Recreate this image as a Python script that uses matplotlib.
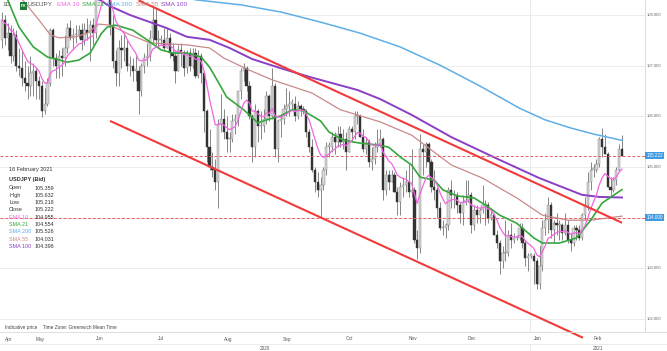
import matplotlib
matplotlib.use("Agg")
import matplotlib.pyplot as plt
import matplotlib.transforms as mtransforms
from matplotlib.patches import Rectangle
import numpy as np
import pandas as pd

plt.rcParams['font.family'] = ['Liberation Sans', 'DejaVu Sans']

# daily bars, 16 Apr 2020 - 16 Feb 2021
dates = pd.bdate_range("2020-04-16", "2021-02-16")

opens = [
    # Apr
    107.50, 107.90, 107.55, 107.65, 107.20, 107.60, 107.00, 106.95, 106.75, 106.65, 106.60,
    # May
    106.85, 106.90, 106.70, 106.60, 106.10, 106.25, 106.65, 107.70, 107.15, 107.00, 107.20,
    107.15, 107.35, 107.75, 107.55, 107.60, 107.60, 107.70, 107.50, 107.70, 107.65,
    # Jun
    107.80, 107.65, 108.70, 108.90, 109.15, 109.55, 108.45, 107.80, 107.10, 106.85, 107.35,
    107.30, 107.35, 107.00, 107.00, 106.90, 106.90, 106.50, 107.00, 107.15, 107.20, 107.55,
    # Jul
    107.90, 107.50, 107.50, 107.50, 107.35, 107.55, 107.25, 107.20, 106.90, 107.30, 107.25,
    106.95, 107.25, 107.00, 107.25, 106.80, 107.20, 106.85, 106.10, 105.40, 105.00, 104.95, 104.70,
    # Aug
    105.85, 105.95, 105.70, 105.55, 105.55, 105.90, 105.95, 106.50, 106.90, 106.95, 106.60,
    106.00, 105.40, 106.10, 105.80, 105.80, 105.95, 106.40, 106.00, 106.60, 105.35,
    # Sep
    105.90, 105.95, 106.15, 106.20, 106.25, 106.25, 106.00, 106.20, 106.15, 106.10, 105.70,
    105.40, 104.95, 104.70, 104.55, 104.65, 104.95, 105.40, 105.40, 105.60, 105.50, 105.65,
    # Oct
    105.50, 105.55, 105.30, 105.75, 105.70, 106.00, 106.00, 105.60, 105.35, 105.50, 105.10,
    105.15, 105.40, 105.45, 105.55, 104.55, 104.85, 104.70, 104.85, 104.50, 104.30, 104.60,
    # Nov
    104.65, 104.70, 104.50, 104.55, 103.55, 103.40, 105.35, 105.30, 105.45, 105.10, 104.60,
    104.55, 104.20, 103.80, 103.80, 103.85, 104.55, 104.45, 104.45, 104.25, 104.10,
    # Dec
    104.30, 104.35, 104.45, 103.85, 104.15, 104.05, 104.15, 104.25, 104.25, 104.00, 104.05,
    103.65, 103.50, 103.15, 103.30, 103.30, 103.65, 103.55, 103.60, 103.60, 103.80, 103.50, 103.20,
    # Jan
    103.25, 103.25, 103.15, 102.70, 103.05, 103.80, 103.95, 104.25, 103.75, 103.90, 103.85,
    103.85, 103.70, 103.85, 103.55, 103.50, 103.80, 103.75, 103.60, 104.05, 104.25,
    # Feb
    104.70, 104.95, 104.95, 105.05, 105.55, 105.40, 105.25, 104.60, 104.55, 104.75, 104.95, 105.359,
]
highs = [
    108.05, 108.00, 107.85, 107.80, 107.75, 107.70, 107.35, 107.30, 107.10, 107.00, 107.20,
    107.05, 106.95, 106.80, 106.70, 106.55, 106.75, 107.75, 107.75, 107.25, 107.30, 107.35,
    107.60, 107.85, 107.90, 107.75, 107.80, 107.80, 107.85, 107.85, 107.95, 107.90,
    107.95, 108.75, 109.00, 109.25, 109.85, 109.60, 108.55, 108.00, 107.30, 107.50, 107.60,
    107.65, 107.50, 107.20, 107.15, 107.20, 107.00, 107.05, 107.25, 107.45, 107.70, 108.15,
    108.15, 107.70, 107.60, 107.75, 107.75, 107.65, 107.45, 107.30, 107.40, 107.45, 107.30,
    107.30, 107.35, 107.35, 107.35, 107.30, 107.25, 106.85, 106.15, 105.75, 105.30, 105.15, 105.95,
    106.45, 106.15, 106.00, 105.70, 106.05, 106.05, 106.50, 106.95, 107.05, 107.00, 106.70,
    106.05, 106.25, 106.15, 106.10, 106.15, 106.50, 106.45, 106.95, 106.65, 105.95,
    106.05, 106.25, 106.55, 106.50, 106.35, 106.40, 106.30, 106.25, 106.20, 106.15, 105.75,
    105.55, 105.00, 104.90, 104.80, 105.00, 105.50, 105.50, 105.70, 105.70, 105.80, 105.80,
    105.75, 105.70, 105.80, 105.80, 106.10, 106.10, 106.05, 105.75, 105.60, 105.55, 105.40,
    105.50, 105.75, 105.75, 105.60, 104.95, 104.95, 104.95, 104.90, 104.60, 104.70, 104.80,
    104.95, 105.05, 105.35, 104.60, 103.75, 105.65, 105.45, 105.50, 105.50, 105.15, 104.95,
    104.60, 104.30, 103.95, 103.90, 104.60, 104.75, 104.55, 104.50, 104.30, 104.45,
    104.75, 104.75, 104.50, 104.25, 104.25, 104.20, 104.65, 104.35, 104.30, 104.20, 104.10,
    103.75, 103.55, 103.45, 103.95, 103.75, 103.90, 103.70, 103.65, 103.90, 103.90, 103.55, 103.30,
    103.30, 103.30, 103.20, 103.45, 103.95, 104.10, 104.40, 104.30, 103.95, 104.10, 103.95,
    103.90, 104.10, 103.95, 103.70, 103.85, 103.85, 103.85, 104.10, 104.40, 104.90,
    105.10, 105.05, 105.15, 105.60, 105.77, 105.65, 105.30, 104.80, 104.80, 105.00, 105.45, 105.632,
]
lows = [
    107.35, 107.40, 107.30, 107.05, 107.10, 106.90, 106.80, 106.60, 106.50, 106.35, 106.40,
    106.40, 106.35, 106.35, 105.99, 106.05, 106.20, 106.60, 107.00, 106.75, 106.75, 106.80,
    107.00, 107.25, 107.50, 107.30, 107.45, 107.55, 107.30, 107.40, 107.50, 107.10,
    107.40, 107.55, 108.40, 108.75, 109.00, 108.40, 107.60, 106.95, 106.60, 106.60, 106.95,
    107.10, 106.90, 106.80, 106.70, 106.70, 106.05, 106.40, 106.85, 107.00, 107.10, 107.45,
    107.40, 107.35, 107.40, 107.30, 107.35, 107.15, 107.10, 106.65, 106.90, 107.00, 106.80,
    106.85, 106.90, 106.95, 106.75, 106.75, 106.65, 105.70, 105.10, 104.95, 104.80, 104.55, 104.19,
    105.70, 105.55, 105.30, 105.30, 105.50, 105.65, 105.80, 106.35, 106.70, 106.50, 105.95,
    105.10, 105.20, 105.50, 105.55, 105.70, 105.85, 105.90, 105.95, 105.20, 105.10,
    105.60, 105.85, 106.00, 106.00, 106.15, 105.90, 105.95, 106.00, 106.05, 105.60, 105.30,
    104.90, 104.50, 104.40, 104.00, 104.55, 104.85, 105.20, 105.30, 105.25, 105.40, 105.40,
    105.35, 104.95, 105.30, 105.50, 105.55, 105.85, 105.60, 105.30, 105.25, 105.00, 104.95,
    105.05, 105.30, 105.40, 104.35, 104.45, 104.55, 104.70, 104.50, 104.05, 104.05, 104.40,
    104.50, 104.40, 104.40, 103.50, 103.18, 103.30, 104.85, 105.00, 104.85, 104.50, 104.35,
    104.00, 103.75, 103.65, 103.60, 103.75, 104.20, 104.20, 104.10, 103.90, 103.85,
    104.25, 104.30, 103.70, 103.75, 103.90, 103.90, 104.10, 103.85, 103.90, 103.95, 103.65,
    103.40, 102.88, 103.00, 103.15, 103.25, 103.40, 103.50, 103.55, 103.55, 103.40, 103.05, 102.95,
    103.20, 102.70, 102.60, 102.59, 102.95, 103.65, 103.70, 103.60, 103.50, 103.65, 103.55,
    103.55, 103.65, 103.50, 103.35, 103.45, 103.55, 103.55, 103.55, 103.95, 104.15,
    104.55, 104.80, 104.90, 105.00, 105.20, 105.25, 104.60, 104.40, 104.50, 104.65, 104.90, 105.218,
]
closes = [
    107.90, 107.55, 107.65, 107.20, 107.60, 107.00, 106.95, 106.75, 106.65, 106.60, 106.85,
    106.90, 106.70, 106.60, 106.10, 106.25, 106.65, 107.70, 107.15, 107.00, 107.20, 107.15,
    107.35, 107.75, 107.55, 107.60, 107.60, 107.70, 107.50, 107.70, 107.65, 107.80,
    107.65, 108.70, 108.90, 109.15, 109.60, 108.45, 107.80, 107.10, 106.85, 107.35, 107.30,
    107.35, 107.00, 107.00, 106.90, 106.90, 106.50, 107.00, 107.15, 107.20, 107.55, 107.90,
    107.50, 107.50, 107.50, 107.35, 107.55, 107.25, 107.20, 106.90, 107.30, 107.25, 106.95,
    107.25, 107.00, 107.25, 106.80, 107.20, 106.85, 106.10, 105.40, 105.00, 104.95, 104.70, 105.85,
    105.95, 105.70, 105.55, 105.55, 105.90, 105.95, 106.50, 106.90, 106.95, 106.60, 106.00,
    105.40, 106.10, 105.80, 105.80, 105.95, 106.40, 106.00, 106.60, 105.35, 105.90,
    105.95, 106.15, 106.20, 106.25, 106.25, 106.00, 106.20, 106.15, 106.10, 105.70, 105.40,
    104.95, 104.70, 104.55, 104.65, 104.95, 105.40, 105.40, 105.60, 105.50, 105.65, 105.50,
    105.55, 105.30, 105.75, 105.70, 106.00, 106.00, 105.60, 105.35, 105.50, 105.10, 105.15,
    105.40, 105.45, 105.55, 104.55, 104.85, 104.70, 104.85, 104.50, 104.30, 104.60, 104.65,
    104.70, 104.50, 104.55, 103.55, 103.40, 105.35, 105.30, 105.45, 105.10, 104.60, 104.55,
    104.20, 103.80, 103.80, 103.85, 104.55, 104.45, 104.45, 104.25, 104.10, 104.30,
    104.35, 104.45, 103.85, 104.15, 104.05, 104.15, 104.25, 104.25, 104.00, 104.05, 103.65,
    103.50, 103.15, 103.30, 103.30, 103.65, 103.55, 103.60, 103.60, 103.80, 103.50, 103.20, 103.25,
    103.25, 103.15, 102.70, 103.05, 103.80, 103.95, 104.25, 103.75, 103.90, 103.85, 103.85,
    103.70, 103.85, 103.55, 103.50, 103.80, 103.75, 103.60, 104.05, 104.25, 104.70,
    104.95, 104.95, 105.05, 105.55, 105.40, 105.25, 104.60, 104.55, 104.75, 104.95, 105.35, 105.222,
]

# moving averages (bar index, price)
sma21_idx = [0, 2, 6, 11, 16, 19, 23, 27, 31, 35, 37, 40, 46, 51, 56, 60, 65, 70, 73, 76, 79, 85,
             90, 93, 98, 102, 106, 112, 115, 120, 126, 133, 136, 140, 144, 147, 152, 155, 160,
             166, 171, 175, 181, 187, 190, 196, 202, 207, 211, 218]
sma21_val = [108.45, 108.30, 107.76, 107.37, 107.17, 107.13, 107.07, 107.11, 107.25, 107.64, 107.76,
             107.80, 107.70, 107.51, 107.31, 107.25, 107.25, 107.17, 106.97, 106.68, 106.38, 106.13,
             105.87, 105.93, 106.01, 106.13, 106.11, 105.91, 105.69, 105.53, 105.47, 105.43, 105.39,
             105.20, 105.04, 104.80, 104.74, 104.55, 104.43, 104.39, 104.21, 104.05, 103.89, 103.60,
             103.50, 103.50, 103.60, 103.95, 104.29, 104.554]
sma55_idx = [0, 8, 13, 17, 20, 26, 30, 34, 38, 45, 52, 65, 73, 78, 87, 95, 109, 119, 133, 144, 158,
             169, 181, 190, 199, 207, 218]
sma55_val = [108.70, 108.25, 107.90, 107.61, 107.55, 107.57, 107.64, 107.82, 107.80, 107.61, 107.45,
             107.41, 107.35, 107.15, 106.91, 106.72, 106.46, 106.13, 105.89, 105.63, 105.04, 104.78,
             104.39, 104.05, 103.95, 103.95, 104.031]
sma100_idx = [28, 35, 37, 45, 52, 58, 65, 73, 80, 88, 98, 108, 125, 133, 144, 158, 175, 189, 204, 210, 218]
sma100_val = [108.45, 108.28, 108.20, 108.00, 107.86, 107.74, 107.57, 107.51, 107.35, 107.13, 106.95,
              106.78, 106.52, 106.34, 106.03, 105.59, 105.14, 104.78, 104.45, 104.41, 104.398]
sma200_idx = [62, 68, 84, 98, 112, 126, 140, 154, 168, 182, 191, 200, 208, 218]
sma200_val = [108.40, 108.30, 108.20, 108.06, 107.86, 107.64, 107.37, 107.01, 106.60, 106.16, 105.93,
              105.77, 105.65, 105.526]

# channel lines (bar index, price)
upper_idx = [48, 218]
upper_val = [108.29, 103.90]
lower_idx = [38, 204.3]
lower_val = [105.91, 101.63]

last_price = 105.222
support = 104.0

panel_labels = ["Open", "High", "Low", "Close", "EMA 10", "SMA 21", "SMA 200", "SMA 55", "SMA 100"]
panel_values = ["105.359", "105.632", "105.218", "105.222", "104.955", "104.554", "105.526",
                "104.031", "104.398"]

C_EMA10 = '#f066e2'
C_SMA21 = '#34a83c'
C_SMA200 = '#5eaee8'
C_SMA55 = '#c98a8a'
C_SMA100 = '#8a3fc4'
panel_colors = ['#333333'] * 4 + [C_EMA10, C_SMA21, C_SMA200, C_SMA55, C_SMA100]

o = np.array(opens); h = np.array(highs); l = np.array(lows); c = np.array(closes)
n = len(c)
assert n == len(dates) == len(o) == len(h) == len(l)
idx = np.arange(n)
ema10 = pd.Series(c).ewm(span=10, adjust=False).mean()

W, H = 667, 351
PX = 2.844          # pixels per bar
X0 = -0.7           # bar index at left edge
PLOT_W, PLOT_B = 645, 332

fig = plt.figure(figsize=(W / 100, H / 100), dpi=100)
fig.patch.set_facecolor('white')
ax = fig.add_axes([0, (H - PLOT_B) / H, PLOT_W / W, PLOT_B / H])
ax.set_xlim(X0, X0 + PLOT_W / PX)
ax.set_ylim(108 - (PLOT_B - 15) / 50.67, 108 + 15 / 50.67)

for s in ['top', 'left', 'bottom']:
    ax.spines[s].set_visible(False)
ax.spines['right'].set_color('#d6d6d6')
ax.spines['right'].set_linewidth(0.6)
ax.set_xticks([])
ax.set_yticks(range(102, 109))
ax.tick_params(left=False, right=False, labelleft=False)
ax.grid(axis='y', color='#e9e9e9', lw=0.6)
ax.set_axisbelow(True)

# year boundary
jan_start = int(np.argmax(dates >= pd.Timestamp("2021-01-01")))
ax.axvline(jan_start - 0.5, color='#e6e6e6', lw=0.6, zorder=0)

# candles
up = c >= o
body_lo = np.minimum(o, c)
body_h = np.maximum(np.abs(c - o), 0.025)
ax.vlines(idx, l, h, color='#7d7d7d', lw=0.65, zorder=2)
ax.bar(idx[up], body_h[up], bottom=body_lo[up], width=0.8, color='#d6d6d6',
       edgecolor='#7d7d7d', lw=0.3, zorder=3)
ax.bar(idx[~up], body_h[~up], bottom=body_lo[~up], width=0.8, color='#333333',
       edgecolor='#333333', lw=0.3, zorder=3)

# moving averages
ax.plot(sma55_idx, sma55_val, color=C_SMA55, lw=0.9, zorder=4)
ax.plot(sma200_idx, sma200_val, color=C_SMA200, lw=1.1, zorder=4)
ax.plot(sma100_idx, sma100_val, color=C_SMA100, lw=1.4, zorder=4)
ax.plot(sma21_idx, sma21_val, color=C_SMA21, lw=1.2, zorder=5)
ax.plot(idx, ema10, color=C_EMA10, lw=0.9, zorder=5)

# channel
ax.plot(upper_idx, upper_val, color='#f23a3a', lw=1.5, zorder=6, solid_capstyle='butt')
ax.plot(lower_idx, lower_val, color='#f23a3a', lw=1.5, zorder=6, solid_capstyle='butt', clip_on=False)

# horizontal markers
for lvl in [last_price, support]:
    ax.axhline(lvl, color='#e86060', lw=0.7, ls=(0, (3, 2)), zorder=4)

# right price scale
tr = mtransforms.blended_transform_factory(ax.transAxes, ax.transData)
for v in range(102, 109):
    if v == support:
        continue
    ax.text(1.003, v, f"{v:.3f}", transform=tr, fontsize=3.0, color='#666666',
            va='center', ha='left', clip_on=False)
for v in [last_price, support]:
    ax.text(1.002, v, f"{v:.3f}", transform=tr, fontsize=3.3, color='white',
            va='center', ha='left', clip_on=False,
            bbox=dict(boxstyle='square,pad=0.25', fc='#3f9be4', ec='none'))

# time axis band
bax = fig.add_axes([0, 0, 1, (H - PLOT_B) / H])
bax.set_xlim(X0, X0 + W / PX)
bax.set_ylim(H - PLOT_B, 0)
bax.axis('off')
bax.axhline(0.3, color='#d9d9d9', lw=0.6)
bax.axhline(11.5, color='#e4e4e4', lw=0.5)
bax.plot([jan_start - 0.5, jan_start - 0.5], [11.5, 19], color='#e4e4e4', lw=0.5)
months = pd.Series(idx, index=dates).groupby([dates.year, dates.month]).first()
for (yy, mm), i in months.items():
    bax.text(i + 0.9, 7, pd.Timestamp(year=yy, month=mm, day=1).strftime('%b'),
             fontsize=3.4, color='#555555', va='center', ha='left')
bax.text((X0 + jan_start - 0.5) / 2, 16, "2020", fontsize=3.4, color='#555555', ha='center', va='center')
bax.text((jan_start - 0.5 + X0 + W / PX) / 2, 16, "2021", fontsize=3.4, color='#555555',
         ha='center', va='center')


def ftext(px, py, s, **kw):
    fig.text(px / W, 1 - py / H, s, va='center', **kw)


# header legend
ftext(2, 5, "1D", fontsize=4.5, color='#555555')
fig.patches.append(Rectangle((19.5 / W, 1 - 9.5 / H), 7.5 / W, 8 / H, transform=fig.transFigure,
                             fc='#1f7a36', ec='none'))
ftext(20.3, 5.6, "FX", fontsize=3.2, color='white', fontweight='bold')
ftext(28, 5, "USDJPY", fontsize=4.6, color='#555555')
for px, name, col in [(57, "EMA 10", C_EMA10), (82, "SMA 21", C_SMA21), (106, "SMA 200", C_SMA200),
                      (136, "SMA 55", C_SMA55), (161, "SMA 100", C_SMA100)]:
    ftext(px, 5, name, fontsize=4.6, color=col)

# data panel
ftext(9, 170, "16 February 2021", fontsize=4.0, color='#333333')
ftext(9, 179, "USDJPY (Bid)", fontsize=4.0, color='#333333', fontweight='bold')
for k, (lab, val, col) in enumerate(zip(panel_labels, panel_values, panel_colors)):
    y = 188 + k * 7.3
    ftext(9, y, lab, fontsize=3.9, color=col)
    ftext(35, y, val, fontsize=3.9, color='#333333')

ftext(5, 327, "Indicative price    Time Zone: Greenwich Mean Time", fontsize=3.4, color='#444444')

fig.savefig("out.png", dpi=100)
